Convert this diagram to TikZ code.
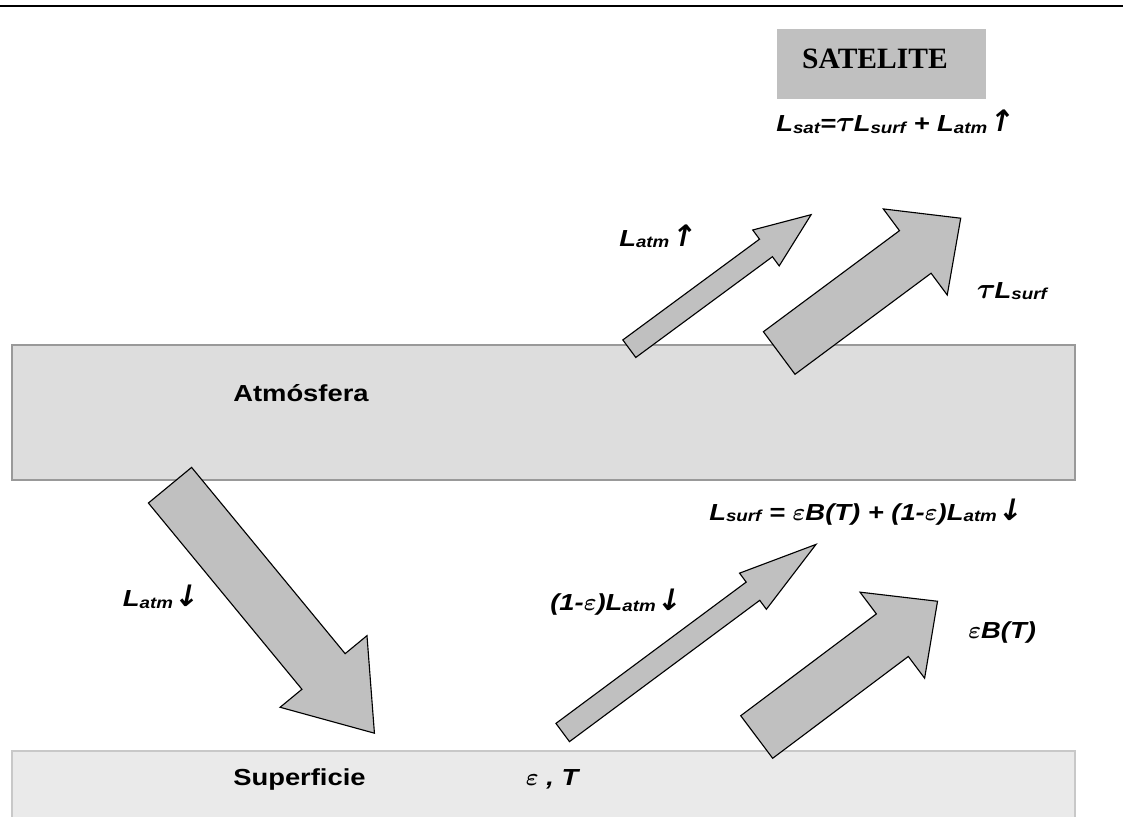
\documentclass[tikz,border=0pt]{standalone}
\usepackage{fontspec}
\setmainfont{Liberation Sans}[FakeStretch=1.18]
\newfontfamily\satfont{Liberation Serif}
\newfontfamily\arrowfont[FakeSlant=0.2]{DejaVu Sans}
\definecolor{beamgray}{HTML}{C0C0C0}
\definecolor{atmgray}{HTML}{DDDDDD}
\definecolor{surfgray}{HTML}{EAEAEA}
\definecolor{rimgray}{HTML}{999999}
\definecolor{surfrim}{HTML}{C8C8C8}
\newcommand{\sub}[1]{\raisebox{-1pt}{\fontsize{11.3}{13}\selectfont #1}}
\newcommand{\upar}{{\arrowfont\upshape\bfseries\fontsize{21}{20}\selectfont ↑}}
\newcommand{\dnar}{{\arrowfont\upshape\bfseries\fontsize{21}{20}\selectfont ↓}}
\newcommand{\bigtau}{{\fontsize{20.5}{20}\selectfont\boldmath$\tau$\kern-1pt}}
% tail, angle, shaft length, head length, half shaft, half head
\newcommand{\blockarrow}[6]{%
  \begin{scope}[shift={#1},rotate=#2]
    \draw[beam] (0,-#5) -- (#3,-#5) -- (#3,-#6) -- (#3+#4,0) -- (#3,#6) -- (#3,#5) -- (0,#5) -- cycle;
  \end{scope}}

\begin{document}
\begin{tikzpicture}[x=0.025cm,y=-0.025cm]
		\tikzset{beam/.style = {draw=black,fill=beamgray,line width=0.8pt,line join=miter}}
		\tikzset{txt/.style = {anchor=base west,inner sep=0pt,font=\fontsize{16.5}{19}\selectfont\bfseries\itshape\boldmath}}
		\tikzset{layertxt/.style = {txt,font=\fontsize{16.5}{19}\selectfont\bfseries}}
		\useasboundingbox (0,0) rectangle (1123,816);
		\draw[line width=1.6pt] (0,6) -- (1123,6);
		% layers
		\draw[draw=rimgray,fill=atmgray,line width=1.2pt] (12,345) rectangle (1075,480);
		\draw[draw=surfrim,fill=surfgray,line width=1pt] (12,751) rectangle (1075,830);
		\node[draw=none,fill=beamgray,minimum width=5.2cm,minimum height=1.75cm] (sat) at (881.5,64) {};
		\node[anchor=base,inner sep=0pt,font=\fontsize{21}{24}\selectfont\satfont\bfseries] (satlbl) at (875,68.3) {SATELITE};
		% arrows
		\blockarrow{(629.3,348.7)}{36.4}{169.8}{56.1}{10.9}{22.3}
		\blockarrow{(779.2,353)}{36.6}{169.5}{56.6}{26.5}{53.6}
		\blockarrow{(170,485.2)}{-50.5}{241.4}{80}{28}{56.3}
		\blockarrow{(562.7,732.5)}{36.6}{237}{78.5}{11.35}{22.5}
		\blockarrow{(756.7,737)}{36.9}{169.6}{56.5}{26.6}{53.8}
		% labels
		\node[txt] (lsat) at (776,131.7) {L\sub{sat}=\bigtau L\sub{surf} + L\sub{atm}\upar};
		\node[txt] (latmup) at (619,246) {L\sub{atm}\upar};
		\node[txt] (tausurf) at (976.7,298) {\bigtau L\sub{surf}};
		\node[txt] (lsurf) at (709,520) {L\sub{surf} = $\varepsilon$B(T) + (1-$\varepsilon$)L\sub{atm}\dnar};
		\node[txt] (refl) at (550,610) {(1-$\varepsilon$)L\sub{atm}\dnar};
		\node[txt] (latmdn) at (122.7,606.7) {L\sub{atm}\dnar};
		\node[txt] (emis) at (968,638) {$\varepsilon$B(T)};
		\node[layertxt] (atmo) at (233,401.7) {Atmósfera};
		\node[layertxt] (surf) at (233,785) {Superficie};
		\node[txt] (epsT) at (525.7,785) {$\varepsilon$ , T};
\end{tikzpicture}
\end{document}
